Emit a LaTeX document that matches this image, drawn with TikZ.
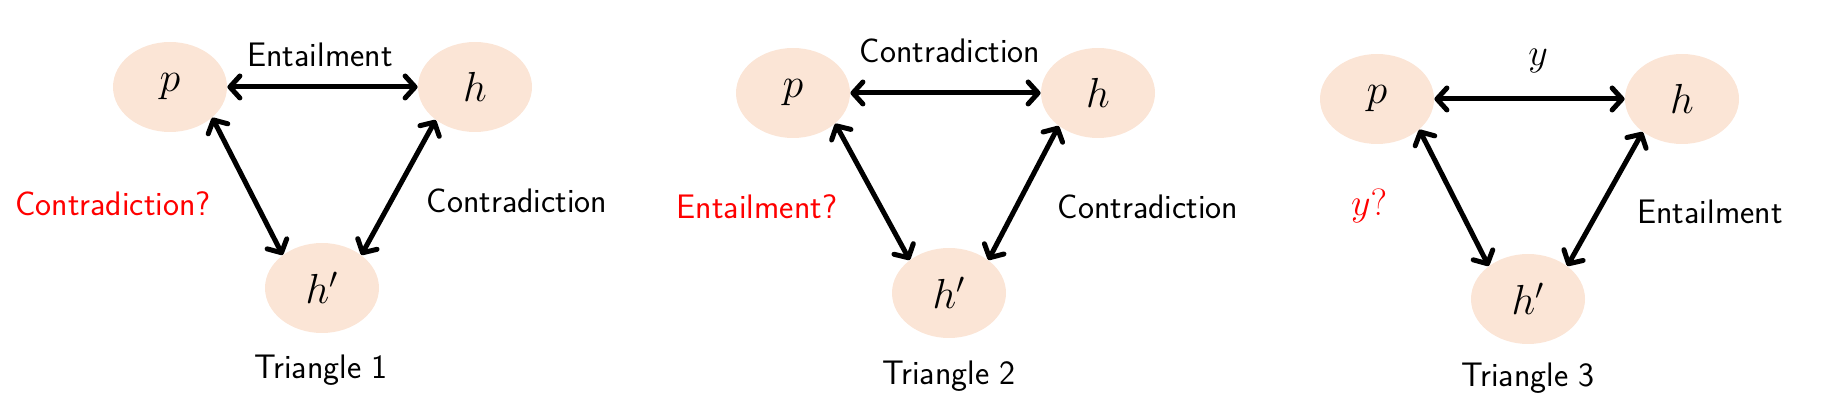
\RequirePackage{fix-cm}
\documentclass[tikz,border=0pt]{standalone}
\usetikzlibrary{shapes.geometric,arrows.meta}

\definecolor{peach}{RGB}{251,229,214}

\tikzset{
    sent/.style={ellipse, fill=peach, minimum width=57pt, minimum height=45pt,
        inner sep=0pt, font=\fontsize{21}{25}\selectfont},
    rel/.style={<->, line width=2.5pt, >={Straight Barb[round,length=5pt,width=11pt]}},
    lbl/.style={font=\sffamily\fontsize{17}{20}\selectfont},
    guess/.style={lbl, text=red},
}

\begin{document}
\begin{tikzpicture}[x=0.5pt,y=-0.5pt]

    % Fix the size of the picture
    \useasboundingbox (0,0) rectangle (1825,416);

    % Triangle 1
    \node[sent] (p1) at (170,87) {$p$};
    \node[sent] (h1) at (475,87) {$h$};
    \node[sent] (hp1) at (322,288) {$h'$};

    \draw[rel] (p1.east) -- (h1.west);
    \draw[rel] (p1.-36) -- (hp1.140);
    \draw[rel] (h1.-140) -- (hp1.40);

    \node[lbl] (e1) at (320,55) {Entailment};
    \node[guess] (q1) at (113,204) {Contradiction?};
    \node[lbl] (c1) at (517,201) {Contradiction};
    \node[lbl] (t1) at (321,370) {Triangle 1};

    % Triangle 2
    \node[sent] (p2) at (793,93) {$p$};
    \node[sent] (h2) at (1098,93) {$h$};
    \node[sent] (hp2) at (949,293) {$h'$};

    \draw[rel] (p2.east) -- (h2.west);
    \draw[rel] (p2.-36) -- (hp2.140);
    \draw[rel] (h2.-140) -- (hp2.40);

    \node[lbl] (c2) at (950,51) {Contradiction};
    \node[guess] (q2) at (757,207) {Entailment?};
    \node[lbl] (r2) at (1148,207) {Contradiction};
    \node[lbl] (t2) at (949,376) {Triangle 2};

    % Triangle 3
    \node[sent] (p3) at (1377,99) {$p$};
    \node[sent] (h3) at (1682,99) {$h$};
    \node[sent] (hp3) at (1528,299) {$h'$};

    \draw[rel] (p3.east) -- (h3.west);
    \draw[rel] (p3.-36) -- (hp3.140);
    \draw[rel] (h3.-140) -- (hp3.40);

    \node[lbl, font=\fontsize{19}{22}\selectfont] (y3) at (1538,61) {$y$};
    \node[guess, font=\fontsize{19}{22}\selectfont] (q3) at (1369,206) {$y?$};
    \node[lbl] (e3) at (1710,212) {Entailment};
    \node[lbl] (t3) at (1528,378) {Triangle 3};

\end{tikzpicture}
\end{document}
